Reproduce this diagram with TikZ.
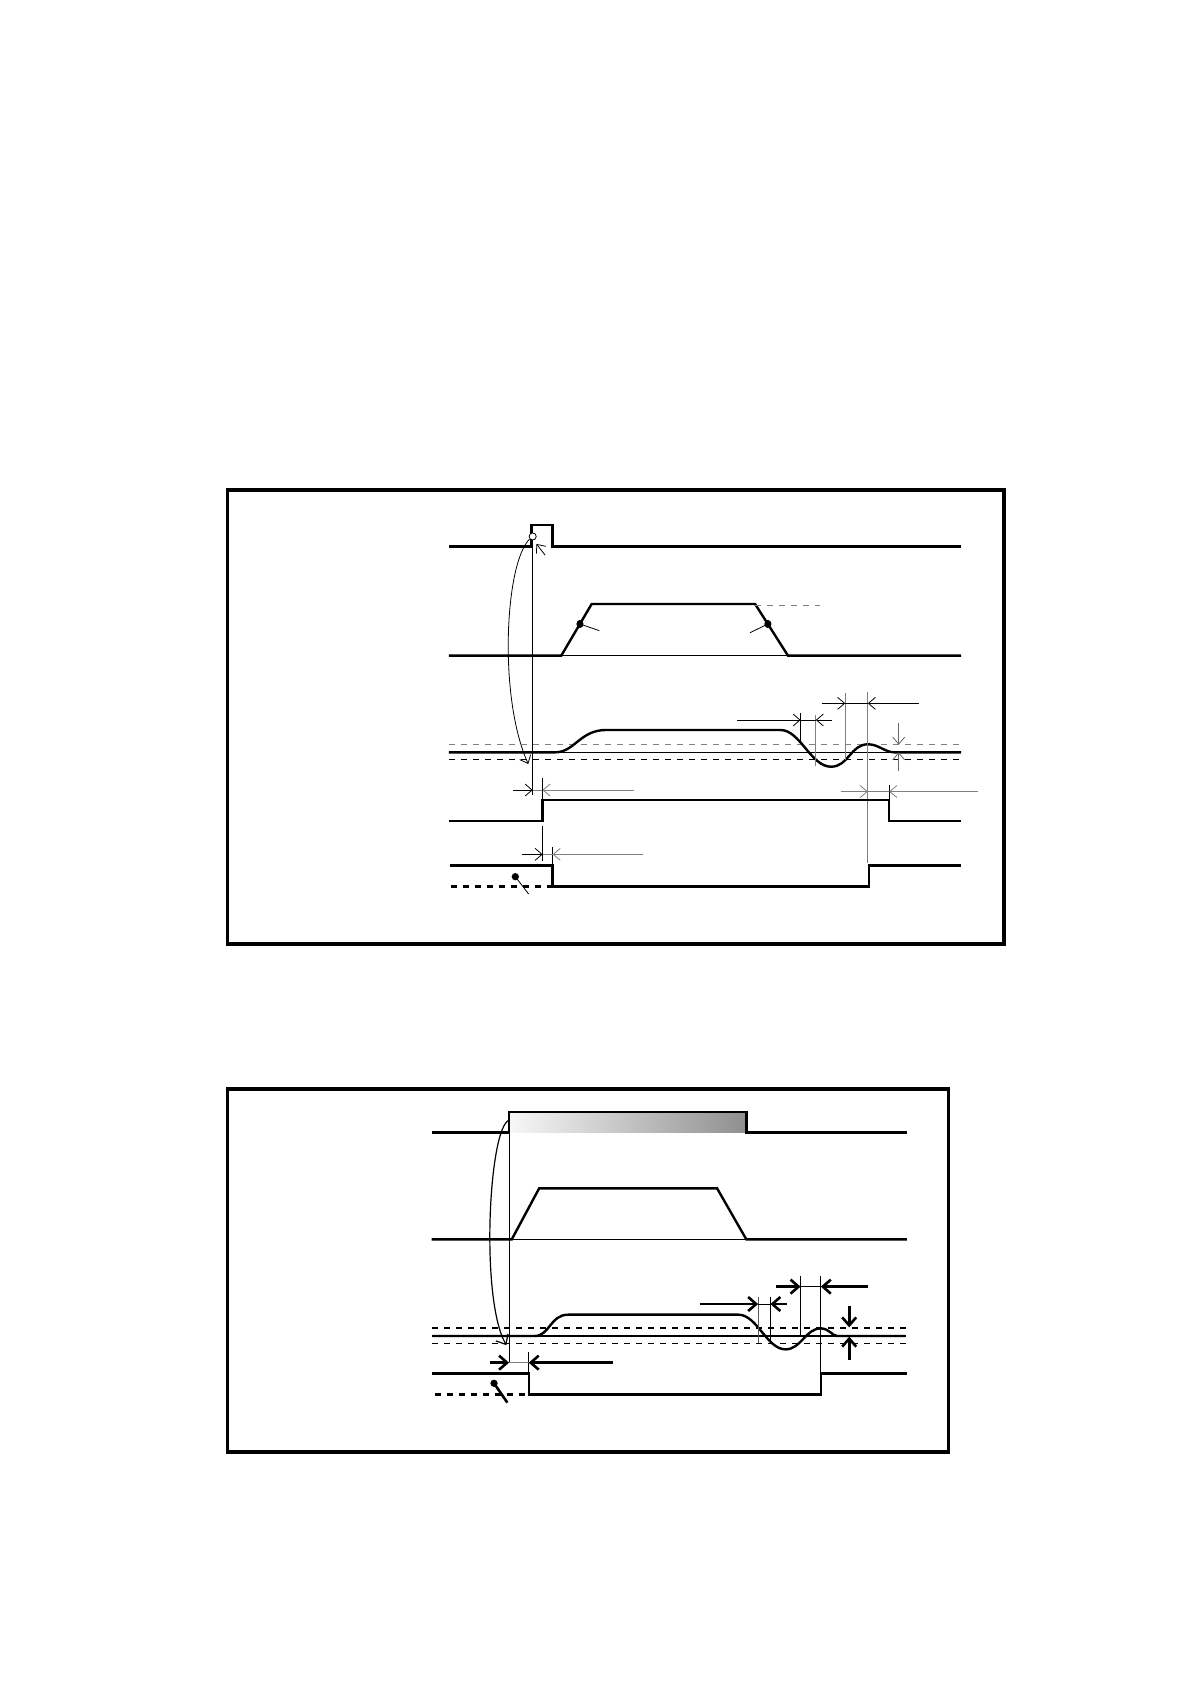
\documentclass[tikz,border=0pt]{standalone}
\usetikzlibrary{arrows.meta}
\begin{document}
\begin{tikzpicture}[x=0.537pt,y=-0.537pt,
    frame/.style={line width=1.8pt},
    sig/.style={line width=1.2pt},
    thinl/.style={line width=0.4pt},
    dim/.style={line width=0.4pt,-{Straight Barb[length=3.5pt,width=6pt]}},
    dimb/.style={line width=1.3pt,-{Straight Barb[length=4pt,width=7pt]}},
    lvl/.style={line width=0.5pt,dashed}]
\useasboundingbox (0,0) rectangle (1108,1568);
% upper chart
\draw[frame] (212,456) rectangle (935,879);
\draw[sig] (418,509) -- (495,509) -- (495,489) -- (514.6,489) -- (514.6,509) -- (895,509);
\draw[thinl] (496,503) -- (496,740);
\draw[thinl,fill=white] (496,499.5) circle[radius=3.3];
\draw[dim] (507.5,516.8) -- (499.5,506.5);
\draw[dim] (493,502) .. controls (470,525) and (464,650) .. (491.9,711.4);
\draw[sig] (418,610.5) -- (522.6,610.5) -- (550.9,562.4) -- (703.1,562.4) -- (733.7,610.5) -- (895,610.5);
\draw[thinl] (522.6,610.5) -- (733.7,610.5);
\draw[thinl,dashed,gray] (703.1,564) -- (763.5,564);
\fill (540,581) ellipse[x radius=3.3,y radius=3.8];
\fill (715,581) ellipse[x radius=3.3,y radius=3.8];
\draw[thinl] (540,581) -- (558,587.2);
\draw[thinl] (715,581) -- (698.4,589.1);
\draw[lvl,gray] (418,693.4) -- (895,693.4);
\draw[lvl] (418,707.6) -- (895,707.6);
\draw[thinl] (418,700.5) -- (895,700.5);
\draw[sig] (418,700.5) -- (516.9,700.5) .. controls (535,700.5) and (540,679.7) .. (564.3,679.7)
  -- (726.7,679.7) .. controls (745,679.7) and (755,713.9) .. (773.8,713.9)
  .. controls (790,713.9) and (792,693) .. (808.2,693) .. controls (818,693) and (824,700.5) .. (832.7,700.5)
  -- (895,700.5);
\draw[thinl] (745.5,664.2) -- (745.5,690.6);
\draw[thinl,gray] (759.6,665.7) -- (759.6,713.2);
\draw[thinl] (745.5,670.4) -- (759.6,670.4);
\draw[dim] (686.6,670.4) -- (745.5,670.4);
\draw[dim] (774.7,670.4) -- (759.6,670.4);
\draw[thinl,gray] (787,645) -- (787,707.6);
\draw[thinl,gray] (808,644) -- (808,804);
\draw[thinl] (787,654.9) -- (808,654.9);
\draw[dim] (765,654.9) -- (787,654.9);
\draw[dim] (855.5,654.9) -- (808,654.9);
\draw[dim,gray!80!black] (836.8,673.2) -- (836.8,693.4);
\draw[dim,gray!80!black] (836.8,717.6) -- (836.8,700.5);
\draw[sig] (418,764.4) -- (505.1,764.4) -- (505.1,744.9) -- (828,744.9) -- (828,764.4) -- (895,764.4);
\draw[thinl] (505.1,724.7) -- (505.1,744.9);
\draw[thinl,gray] (496,735.6) -- (505.1,735.6);
\draw[dim] (477.5,735.6) -- (496,735.6);
\draw[dim,gray] (590,735.6) -- (505.1,735.6);
\draw[thinl] (828,731) -- (828,744.9);
\draw[thinl,gray] (808,737) -- (828,737);
\draw[dim,gray] (783,737) -- (808,737);
\draw[dim,gray] (911,737) -- (828,737);
\draw[sig] (419,806) -- (514.6,806) -- (514.6,825.6) -- (809,825.6) -- (809,806) -- (895,806);
\draw[sig,dashed] (420,825.6) -- (514.6,825.6);
\draw[thinl] (505.3,769) -- (505.3,802);
\draw[thinl] (514.6,789) -- (514.6,806);
\draw[thinl,gray] (505.3,795.5) -- (514.6,795.5);
\draw[dim] (486.3,795.5) -- (505.3,795.5);
\draw[dim,gray] (599,795.5) -- (514.6,795.5);
\fill (479.8,816.3) circle[radius=3.4];
\draw[thinl] (479.8,816.3) -- (492.2,832.4);
% lower chart
\draw[frame] (212,1014) rectangle (883,1352);
\shade[left color=gray!6,right color=gray!88] (474,1035.5) rectangle (694.9,1054.3);
\draw[sig] (402.7,1054.3) -- (474,1054.3) -- (474,1035.5) -- (694.9,1035.5) -- (694.9,1054.3) -- (844.3,1054.3);
\draw[thinl] (474,1054.3) -- (474,1268.8);
\draw[dimb,line width=0.6pt] (474,1043) .. controls (455,1050) and (447,1210) .. (471.5,1252.5);
\draw[sig] (401.8,1154) -- (476.5,1154) -- (502,1106.5) -- (667.7,1106.5) -- (694.9,1154) -- (844.3,1154);
\draw[thinl] (476.5,1154) -- (694.9,1154);
\draw[lvl,line width=0.7pt] (402.7,1236.5) -- (843.4,1236.5);
\draw[lvl,line width=0.7pt] (402.7,1251.1) -- (843.4,1251.1);
\draw[line width=0.6pt] (402.7,1244) -- (843.4,1244);
\draw[sig] (402.7,1244) -- (497.6,1244) .. controls (512,1244) and (512,1224.1) .. (529.2,1224.1)
  -- (687.4,1224.1) .. controls (705,1224.1) and (714,1256.4) .. (731.4,1256.4)
  .. controls (746,1256.4) and (750,1236.9) .. (764.3,1236.9) .. controls (772,1236.9) and (775,1244) .. (779.7,1244)
  -- (843.4,1244);
\draw[thinl,gray!70!black] (705.9,1207.4) -- (705.9,1250.8);
\draw[thinl] (717.3,1207.4) -- (717.3,1250.8);
\draw[thinl] (705.9,1214.2) -- (717.3,1214.2);
\draw[dimb] (651.4,1214.2) -- (705.9,1214.2);
\draw[dimb] (732.7,1214.2) -- (717.3,1214.2);
\draw[thinl] (745.4,1188.1) -- (745.4,1244.6);
\draw[thinl] (764.3,1188.1) -- (764.3,1298.3);
\draw[thinl] (745.4,1198) -- (764.3,1198);
\draw[dimb] (722.6,1198) -- (745.4,1198);
\draw[dimb] (808.3,1198) -- (764.3,1198);
\draw[dimb] (790.7,1216) -- (790.7,1235.9);
\draw[dimb] (790.7,1266.3) -- (790.7,1244.6);
\draw[sig] (402.7,1278.8) -- (492.3,1278.8) -- (492.3,1298.3) -- (764.3,1298.3) -- (764.3,1278.8) -- (844.3,1278.8);
\draw[sig,dashed] (405.3,1298.3) -- (492.3,1298.3);
\draw[thinl] (492.3,1258.6) -- (492.3,1278.8);
\draw[thinl,gray] (474,1268.8) -- (492.3,1268.8);
\draw[dimb] (456.3,1268.8) -- (474,1268.8);
\draw[dimb] (571,1268.8) -- (492.3,1268.8);
\fill (460,1288) circle[radius=3.4];
\draw[line width=1.3pt] (460,1288) -- (472.4,1306);
\end{tikzpicture}
\end{document}
